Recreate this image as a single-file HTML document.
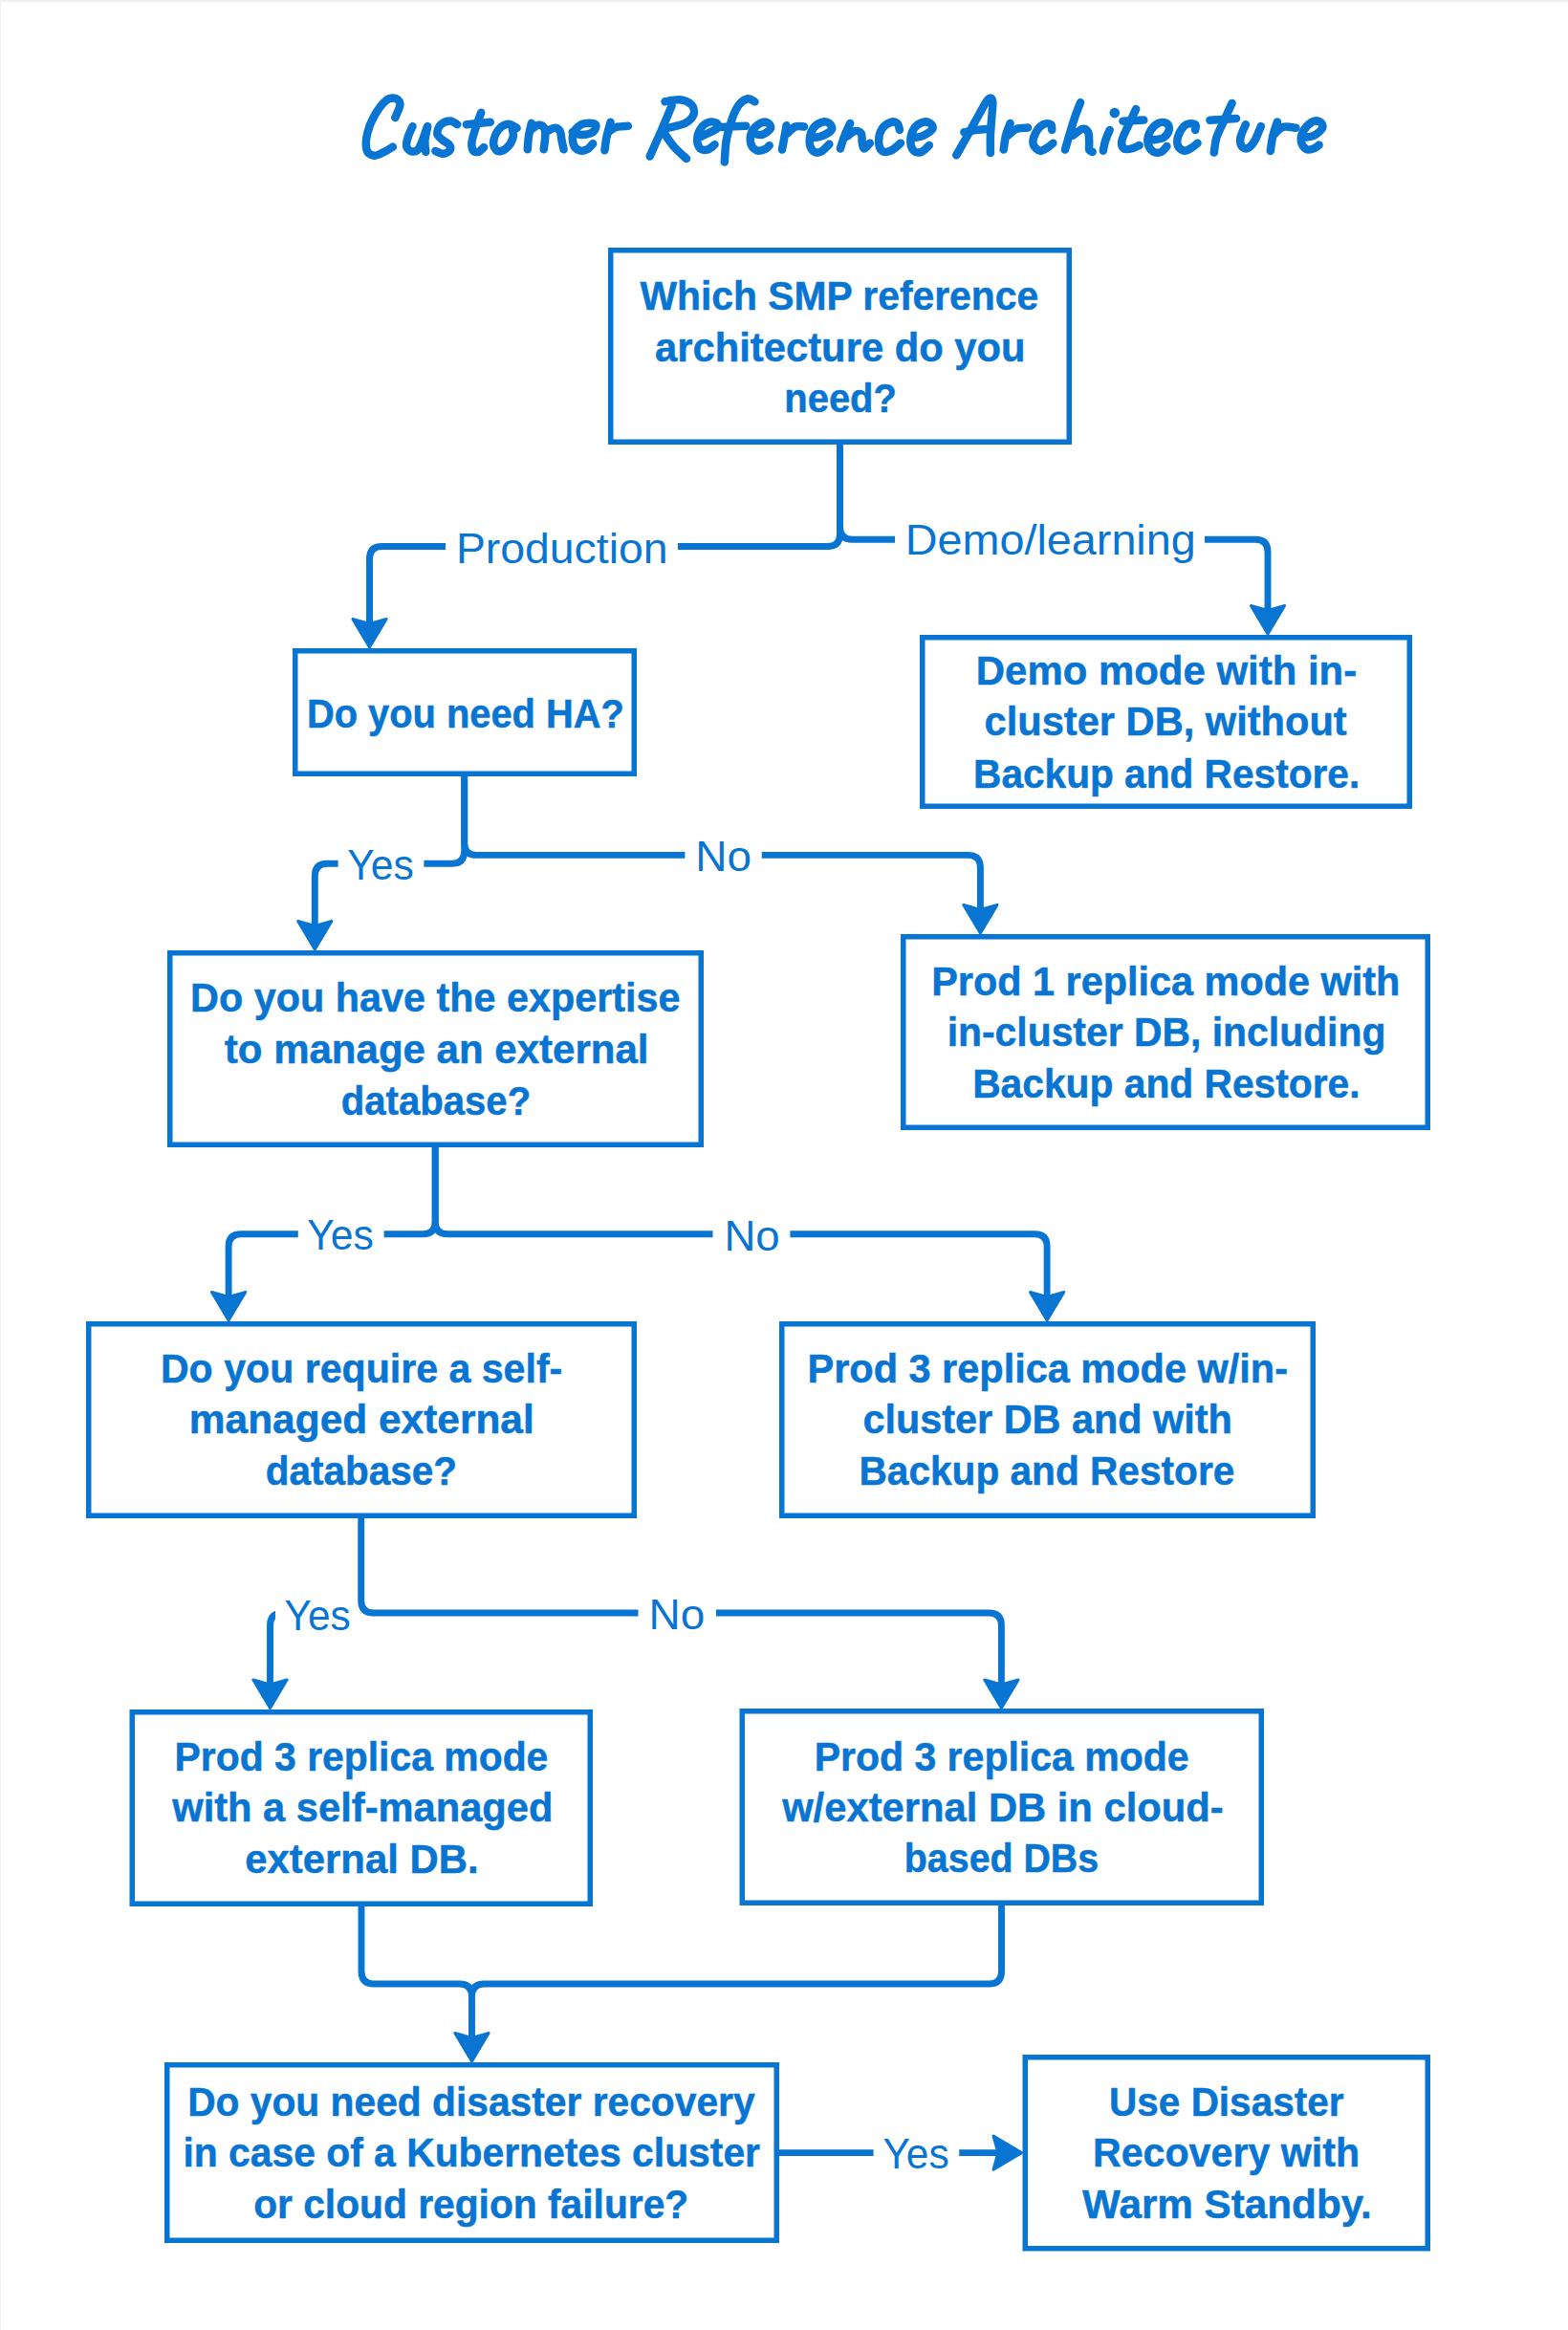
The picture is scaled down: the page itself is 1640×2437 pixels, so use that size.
<!DOCTYPE html>
<html><head><meta charset="utf-8"><style>
html,body{margin:0;padding:0;background:#fff;}
body{width:1640px;height:2437px;overflow:hidden;position:relative;}
svg{position:absolute;left:0;top:0;}
</style></head><body>
<svg width="1640" height="2437" viewBox="0 0 1640 2437">
<defs><clipPath id="cl1"><rect x="0" y="0" width="288" height="2437"/></clipPath></defs>
<rect x="0" y="0" width="1640" height="2" fill="#f0f0f0"/>
<rect x="0" y="0" width="1" height="2437" fill="#f2f2f2"/>
<g fill="none" stroke="#0875d3" stroke-width="5.5">
<rect x="638.75" y="261.75" width="479.50" height="200.50"/>
<rect x="308.75" y="680.75" width="354.50" height="128.50"/>
<rect x="964.75" y="666.75" width="509.50" height="176.50"/>
<rect x="177.75" y="996.75" width="555.50" height="200.50"/>
<rect x="944.75" y="979.75" width="548.50" height="199.50"/>
<rect x="92.75" y="1384.75" width="570.50" height="200.50"/>
<rect x="817.75" y="1384.75" width="555.50" height="200.50"/>
<rect x="138.25" y="1790.75" width="479.00" height="200.50"/>
<rect x="776.25" y="1789.75" width="543.00" height="200.50"/>
<rect x="174.75" y="2159.75" width="637.50" height="183.50"/>
<rect x="1072.25" y="2151.75" width="421.00" height="200.00"/>
</g>
<g fill="none" stroke="#0875d3" stroke-width="6.9" stroke-linecap="butt" stroke-linejoin="round">
<path d="M878.5 465 V558.5 Q878.5 571.5 865.5 571.5 H709"/>
<path d="M466 571.5 H399.5 Q386.5 571.5 386.5 584.5 V654"/>
<path d="M878.5 465 V551.3 Q878.5 564.3 891.5 564.3 H936"/>
<path d="M1260 564.3 H1313.0 Q1326 564.3 1326 577.3 V640"/>
<path d="M485.7 812 V890.2 Q485.7 903.2 472.7 903.2 H443.4"/>
<path d="M353.6 903.2 H342.3 Q329.3 903.2 329.3 916.2 V971"/>
<path d="M485.7 812 V881.4 Q485.7 894.4 498.7 894.4 H716.4"/>
<path d="M796.8 894.4 H1012.4 Q1025.4 894.4 1025.4 907.4 V954"/>
<path d="M455.2 1200 V1277.8 Q455.2 1290.8 442.2 1290.8 H401.6"/>
<path d="M311.8 1290.8 H252.1 Q239.1 1290.8 239.1 1303.8 V1358"/>
<path d="M455.2 1200 V1277.8 Q455.2 1290.8 468.2 1290.8 H745.5"/>
<path d="M826.4 1290.8 H1082.1 Q1095.1 1290.8 1095.1 1303.8 V1358"/>
<path d="M377.7 1588 V1674.0 Q377.7 1687.0 390.7 1687.0 H667.5"/>
<path d="M748.9 1687.0 H1034.4 Q1047.4 1687.0 1047.4 1700.0 V1764"/>
<path d="M378 1994 V2062.0 Q378 2075.0 391.0 2075.0 H480.5 Q493.5 2075.0 493.5 2088.0 V2134"/>
<path d="M1047.5 1993 V2062.0 Q1047.5 2075.0 1034.5 2075.0 H506.5 Q493.5 2075.0 493.5 2088.0"/>
<path d="M815 2251.6 H913.6"/>
<path d="M1003.2 2251.6 H1046"/>
<path clip-path="url(#cl1)" d="M330 1687.0 H295.5 Q282.5 1687.0 282.5 1700.0 V1764"/>
</g>
<g fill="#0875d3" stroke="#0875d3" stroke-width="3" stroke-linejoin="round">
<path d="M386.50 677.00 L368.90 647.50 L386.50 652.50 L404.10 647.50 Z"/>
<path d="M1326.00 663.00 L1308.40 633.50 L1326.00 638.50 L1343.60 633.50 Z"/>
<path d="M329.30 993.00 L311.70 963.50 L329.30 968.50 L346.90 963.50 Z"/>
<path d="M1025.40 976.00 L1007.80 946.50 L1025.40 951.50 L1043.00 946.50 Z"/>
<path d="M239.10 1381.00 L221.50 1351.50 L239.10 1356.50 L256.70 1351.50 Z"/>
<path d="M1095.10 1381.00 L1077.50 1351.50 L1095.10 1356.50 L1112.70 1351.50 Z"/>
<path d="M1047.40 1786.50 L1029.80 1757.00 L1047.40 1762.00 L1065.00 1757.00 Z"/>
<path d="M282.50 1786.50 L264.90 1757.00 L282.50 1762.00 L300.10 1757.00 Z"/>
<path d="M493.50 2156.00 L475.90 2126.50 L493.50 2131.50 L511.10 2126.50 Z"/>
<path d="M1068.50 2251.60 L1039.00 2234.00 L1044.00 2251.60 L1039.00 2269.20 Z"/>
</g>
<g fill="#0875d3" font-family="'Liberation Sans', sans-serif">
<text stroke="#0875d3" stroke-width="0.5" transform="translate(669.50 324.00) scale(0.9722 1)" font-size="42" font-weight="bold" font-style="normal">Which SMP reference</text>
<text stroke="#0875d3" stroke-width="0.5" transform="translate(685.05 378.00) scale(0.9945 1)" font-size="42" font-weight="bold" font-style="normal">architecture do you</text>
<text stroke="#0875d3" stroke-width="0.5" transform="translate(820.30 431.00) scale(0.9510 1)" font-size="42" font-weight="bold" font-style="normal">need?</text>
<text stroke="#0875d3" stroke-width="0.5" transform="translate(320.91 760.80) scale(0.9486 1)" font-size="42" font-weight="bold" font-style="normal">Do you need HA?</text>
<text stroke="#0875d3" stroke-width="0.5" transform="translate(1020.78 715.70) scale(0.9986 1)" font-size="42" font-weight="bold" font-style="normal">Demo mode with in-</text>
<text stroke="#0875d3" stroke-width="0.5" transform="translate(1029.60 769.30) scale(0.9909 1)" font-size="42" font-weight="bold" font-style="normal">cluster DB, without</text>
<text stroke="#0875d3" stroke-width="0.5" transform="translate(1018.06 823.60) scale(0.9676 1)" font-size="42" font-weight="bold" font-style="normal">Backup and Restore.</text>
<text stroke="#0875d3" stroke-width="0.5" transform="translate(199.11 1058.40) scale(0.9848 1)" font-size="42" font-weight="bold" font-style="normal">Do you have the expertise</text>
<text stroke="#0875d3" stroke-width="0.5" transform="translate(234.80 1112.30) scale(1.0009 1)" font-size="42" font-weight="bold" font-style="normal">to manage an external</text>
<text stroke="#0875d3" stroke-width="0.5" transform="translate(356.75 1165.60) scale(0.9555 1)" font-size="42" font-weight="bold" font-style="normal">database?</text>
<text stroke="#0875d3" stroke-width="0.5" transform="translate(974.21 1040.70) scale(0.9863 1)" font-size="42" font-weight="bold" font-style="normal">Prod 1 replica mode with</text>
<text stroke="#0875d3" stroke-width="0.5" transform="translate(990.64 1094.20) scale(0.9735 1)" font-size="42" font-weight="bold" font-style="normal">in-cluster DB, including</text>
<text stroke="#0875d3" stroke-width="0.5" transform="translate(1017.15 1147.90) scale(0.9710 1)" font-size="42" font-weight="bold" font-style="normal">Backup and Restore.</text>
<text stroke="#0875d3" stroke-width="0.5" transform="translate(167.93 1445.50) scale(0.9793 1)" font-size="42" font-weight="bold" font-style="normal">Do you require a self-</text>
<text stroke="#0875d3" stroke-width="0.5" transform="translate(197.85 1499.10) scale(1.0107 1)" font-size="42" font-weight="bold" font-style="normal">managed external</text>
<text stroke="#0875d3" stroke-width="0.5" transform="translate(277.73 1553.10) scale(0.9648 1)" font-size="42" font-weight="bold" font-style="normal">database?</text>
<text stroke="#0875d3" stroke-width="0.5" transform="translate(844.51 1445.70) scale(0.9878 1)" font-size="42" font-weight="bold" font-style="normal">Prod 3 replica mode w/in-</text>
<text stroke="#0875d3" stroke-width="0.5" transform="translate(902.41 1499.00) scale(0.9861 1)" font-size="42" font-weight="bold" font-style="normal">cluster DB and with</text>
<text stroke="#0875d3" stroke-width="0.5" transform="translate(898.46 1552.80) scale(0.9676 1)" font-size="42" font-weight="bold" font-style="normal">Backup and Restore</text>
<text stroke="#0875d3" stroke-width="0.5" transform="translate(182.54 1851.60) scale(0.9739 1)" font-size="42" font-weight="bold" font-style="normal">Prod 3 replica mode</text>
<text stroke="#0875d3" stroke-width="0.5" transform="translate(180.25 1904.90) scale(0.9920 1)" font-size="42" font-weight="bold" font-style="normal">with a self-managed</text>
<text stroke="#0875d3" stroke-width="0.5" transform="translate(256.29 1958.80) scale(0.9967 1)" font-size="42" font-weight="bold" font-style="normal">external DB.</text>
<text stroke="#0875d3" stroke-width="0.5" transform="translate(851.64 1851.90) scale(0.9764 1)" font-size="42" font-weight="bold" font-style="normal">Prod 3 replica mode</text>
<text stroke="#0875d3" stroke-width="0.5" transform="translate(818.15 1905.40) scale(0.9941 1)" font-size="42" font-weight="bold" font-style="normal">w/external DB in cloud-</text>
<text stroke="#0875d3" stroke-width="0.5" transform="translate(945.84 1958.00) scale(0.9368 1)" font-size="42" font-weight="bold" font-style="normal">based DBs</text>
<text stroke="#0875d3" stroke-width="0.5" transform="translate(196.15 2212.60) scale(0.9706 1)" font-size="42" font-weight="bold" font-style="normal">Do you need disaster recovery</text>
<text stroke="#0875d3" stroke-width="0.5" transform="translate(191.45 2266.40) scale(0.9725 1)" font-size="42" font-weight="bold" font-style="normal">in case of a Kubernetes cluster</text>
<text stroke="#0875d3" stroke-width="0.5" transform="translate(265.13 2319.50) scale(0.9706 1)" font-size="42" font-weight="bold" font-style="normal">or cloud region failure?</text>
<text stroke="#0875d3" stroke-width="0.5" transform="translate(1160.10 2212.50) scale(0.9642 1)" font-size="42" font-weight="bold" font-style="normal">Use Disaster</text>
<text stroke="#0875d3" stroke-width="0.5" transform="translate(1142.93 2266.40) scale(0.9807 1)" font-size="42" font-weight="bold" font-style="normal">Recovery with</text>
<text stroke="#0875d3" stroke-width="0.5" transform="translate(1132.10 2320.40) scale(1.0059 1)" font-size="42" font-weight="bold" font-style="normal">Warm Standby.</text>
<text transform="translate(476.88 588.70) scale(1.0541 1)" font-size="44" font-weight="normal" font-style="normal">Production</text>
<text transform="translate(946.85 580.40) scale(1.0623 1)" font-size="44" font-weight="normal" font-style="normal">Demo/learning</text>
<text transform="translate(363.13 919.80) scale(0.9696 1)" font-size="44" font-weight="normal" font-style="normal">Yes</text>
<text transform="translate(727.31 910.90) scale(1.0446 1)" font-size="44" font-weight="normal" font-style="normal">No</text>
<text transform="translate(321.33 1307.20) scale(0.9696 1)" font-size="44" font-weight="normal" font-style="normal">Yes</text>
<text transform="translate(757.44 1307.50) scale(1.0367 1)" font-size="44" font-weight="normal" font-style="normal">No</text>
<text transform="translate(297.54 1704.60) scale(0.9639 1)" font-size="44" font-weight="normal" font-style="normal">Yes</text>
<text transform="translate(678.51 1704.00) scale(1.0446 1)" font-size="44" font-weight="normal" font-style="normal">No</text>
<text transform="translate(923.44 2268.00) scale(0.9653 1)" font-size="44" font-weight="normal" font-style="normal">Yes</text>
</g>
<g fill="none" stroke="#0875d3" stroke-width="8.5" stroke-linecap="round" stroke-linejoin="round">
<path d="M413.3 123.0 C414.2 120.7 418.5 112.5 418.5 109.1 C418.5 105.8 415.7 103.6 413.3 102.9 C410.8 102.3 407.4 102.2 403.7 105.3 C400.0 108.4 394.5 115.8 391.3 121.6 C388.0 127.3 385.4 133.9 384.1 139.8 C382.8 145.7 382.4 153.2 383.6 157.0 C384.8 160.8 388.2 162.4 391.3 162.7 C394.3 163.0 398.5 160.4 401.8 158.9 C405.1 157.4 409.4 154.5 410.9 153.6"/>
<path d="M431.5 132.1 C430.7 134.0 427.7 140.1 426.7 143.6 C425.6 147.1 424.6 150.7 425.2 153.2 C425.9 155.6 428.3 158.1 430.5 158.4 C432.7 158.7 435.4 159.3 438.2 155.1 C440.9 150.8 445.3 136.7 446.8 133.1"/>
<path d="M447.2 132.1 C446.8 134.7 444.7 143.0 444.4 147.4 C444.1 151.9 445.2 157.0 445.3 158.9"/>
<path d="M478.3 130.2 C477.1 129.6 473.6 126.4 470.7 126.4 C467.8 126.4 463.4 128.0 461.1 130.2 C458.9 132.4 457.0 137.0 457.3 139.8 C457.6 142.5 461.0 144.5 463.0 146.5 C465.1 148.4 468.5 149.5 469.7 151.2 C471.0 153.0 471.7 155.4 470.7 157.0 C469.7 158.6 466.5 160.7 464.0 160.8 C461.4 161.0 456.8 158.4 455.4 157.9"/>
<path d="M503.2 117.8 C502.4 120.0 500.0 126.2 498.4 131.1 C496.9 136.1 494.3 143.1 493.7 147.4 C493.0 151.7 493.5 155.1 494.6 157.0 C495.7 158.9 498.4 159.4 500.4 158.9 C502.3 158.4 505.1 154.9 506.1 154.1"/>
<path d="M487.9 130.2 L512.8 127.8"/>
<path d="M540.6 133.9 C539.1 133.2 534.7 129.5 531.4 129.8 C528.2 130.1 523.8 132.7 521.2 135.9 C518.7 139.1 516.3 145.5 516.1 149.2 C516.0 152.8 518.0 156.8 520.2 157.9 C522.4 158.9 526.7 157.6 529.4 155.3 C532.1 153.0 535.5 147.8 536.5 144.1 C537.6 140.3 535.7 134.7 535.5 132.9"/>
<path d="M555.9 128.8 C555.4 131.2 553.5 138.5 552.9 143.1 C552.2 147.7 552.0 154.1 551.8 156.3"/>
<path d="M554.9 135.9 C556.3 135.1 560.7 131.2 563.1 130.8 C565.4 130.5 568.0 131.8 569.2 133.9 C570.4 135.9 570.3 139.3 570.2 143.1 C570.1 146.8 568.9 154.1 568.7 156.3"/>
<path d="M571.2 138.0 C572.6 137.3 577.0 134.0 579.4 133.9 C581.8 133.7 584.1 134.7 585.5 136.9 C586.9 139.1 586.9 143.9 587.6 147.1 C588.2 150.4 589.3 154.8 589.6 156.3"/>
<path d="M598.8 138.0 C600.3 138.5 604.4 141.0 608.0 141.0 C611.5 141.0 617.7 139.7 620.2 138.0 C622.8 136.3 623.9 132.3 623.3 130.8 C622.6 129.3 618.8 128.8 616.1 128.8 C613.4 128.8 609.7 129.1 606.9 130.8 C604.2 132.5 601.0 135.6 599.8 139.0 C598.6 142.4 598.8 148.2 599.8 151.2 C600.8 154.3 603.5 156.5 605.9 157.3 C608.3 158.2 611.7 157.5 614.1 156.3 C616.5 155.1 619.2 151.2 620.2 150.2"/>
<path d="M638.6 127.8 C637.9 130.3 635.5 138.1 634.5 143.1 C633.5 148.0 632.8 155.0 632.4 157.3"/>
<path d="M636.5 138.0 C637.9 137.1 641.3 133.9 644.7 132.9 C648.1 131.8 654.9 132.0 656.9 131.8"/>
<path d="M695.5 106.3 C698.1 106.0 706.2 103.8 710.8 104.3 C715.4 104.8 720.6 106.8 723.1 109.4 C725.5 111.9 726.6 116.4 725.6 119.6 C724.6 122.8 721.4 126.4 716.9 128.8 C712.4 131.2 701.6 133.0 698.6 133.9"/>
<path d="M702.7 110.4 C701.0 114.5 696.3 126.1 692.4 134.9 C688.6 143.7 681.8 158.7 679.7 163.5"/>
<path d="M694.5 139.0 C696.2 141.4 700.8 148.8 704.7 153.3 C708.6 157.8 715.7 163.9 718.0 166.0"/>
<path d="M732.2 143.1 C733.8 142.4 738.4 140.5 741.4 139.0 C744.5 137.4 749.3 135.6 750.6 133.9 C752.0 132.2 751.1 129.8 749.6 128.8 C748.1 127.8 744.1 126.9 741.4 127.8 C738.7 128.6 735.3 131.0 733.3 133.9 C731.2 136.8 729.4 141.5 729.2 145.1 C729.0 148.7 730.4 153.4 732.2 155.3 C734.1 157.2 737.9 157.0 740.4 156.3 C743.0 155.6 746.4 152.1 747.6 151.2"/>
<path d="M789.4 106.3 C788.2 105.8 785.0 102.8 782.2 103.3 C779.5 103.8 775.8 106.0 773.1 109.4 C770.3 112.8 768.1 117.6 765.9 123.7 C763.7 129.8 761.2 138.5 759.8 146.1 C758.4 153.8 758.1 165.7 757.8 169.6"/>
<path d="M754.7 132.9 L780.2 131.8"/>
<path d="M787.3 139.0 C788.9 139.3 793.5 141.7 796.5 141.0 C799.6 140.3 804.5 136.9 805.7 134.9 C806.9 132.9 805.4 129.8 803.7 128.8 C802.0 127.8 798.4 127.2 795.5 128.8 C792.6 130.3 788.0 134.4 786.3 138.0 C784.6 141.5 784.5 147.0 785.3 150.2 C786.2 153.4 789.0 156.3 791.4 157.3 C793.8 158.4 797.4 157.2 799.6 156.3 C801.8 155.5 803.8 152.9 804.7 152.2"/>
<path d="M822.6 131.3 C822.2 133.4 821.1 139.7 820.3 144.0 C819.6 148.2 818.4 154.5 818.0 156.6"/>
<path d="M823.8 139.4 C825.1 138.2 828.9 133.6 831.8 132.5 C834.7 131.3 839.5 132.5 841.0 132.5"/>
<path d="M847.9 144.0 C849.6 143.8 854.6 144.1 858.2 142.8 C861.9 141.5 868.2 138.2 869.7 135.9 C871.2 133.6 869.1 130.4 867.4 129.0 C865.7 127.7 862.2 126.9 859.4 127.9 C856.5 128.8 852.3 131.5 850.2 134.8 C848.1 138.0 846.7 143.6 846.7 147.4 C846.7 151.2 848.3 155.8 850.2 157.7 C852.1 159.6 855.3 160.0 858.2 158.9 C861.1 157.7 865.9 152.2 867.4 150.8"/>
<path d="M889.2 129.0 C888.3 131.1 885.2 137.3 883.5 141.7 C881.7 146.1 879.6 153.1 878.9 155.4"/>
<path d="M885.8 142.8 C887.1 141.9 891.3 137.6 893.8 137.1 C896.3 136.5 899.4 137.3 900.7 139.4 C902.0 141.5 901.3 147.0 901.8 149.7 C902.4 152.4 902.8 155.4 904.1 155.4 C905.5 155.4 908.9 150.7 909.9 149.7"/>
<path d="M940.9 135.9 C940.5 134.8 940.1 130.4 938.6 129.0 C937.0 127.7 934.4 126.9 931.7 127.9 C929.0 128.8 924.6 131.5 922.5 134.8 C920.4 138.0 919.1 143.6 919.1 147.4 C919.1 151.2 920.4 156.0 922.5 157.7 C924.6 159.5 928.4 159.1 931.7 157.7 C934.9 156.4 940.3 151.0 942.0 149.7"/>
<path d="M956.9 144.0 C958.5 143.6 963.1 143.2 966.1 141.7 C969.2 140.1 974.2 136.9 975.3 134.8 C976.5 132.7 974.7 130.2 973.0 129.0 C971.3 127.9 967.8 126.9 965.0 127.9 C962.1 128.8 957.9 131.5 955.8 134.8 C953.7 138.0 952.3 143.6 952.3 147.4 C952.3 151.2 953.9 155.8 955.8 157.7 C957.7 159.6 961.1 159.8 963.8 158.9 C966.5 157.9 970.5 153.1 971.9 152.0"/>
<path d="M1000.3 162.3 C1002.1 159.3 1006.8 150.8 1010.7 144.0 C1014.5 137.1 1019.5 127.7 1023.3 121.0 C1027.1 114.3 1031.1 106.3 1033.6 103.8 C1036.1 101.3 1037.6 102.6 1038.2 106.1 C1038.8 109.5 1037.4 118.5 1037.1 124.4 C1036.7 130.4 1036.1 135.7 1035.9 141.7 C1035.7 147.6 1035.9 157.0 1035.9 160.0"/>
<path d="M1008.4 138.2 C1010.7 137.8 1017.6 136.5 1022.1 135.9 C1026.7 135.3 1033.6 135.0 1035.9 134.8"/>
<path d="M1056.6 129.0 C1055.8 131.1 1053.1 137.1 1052.0 141.7 C1050.8 146.3 1050.1 154.1 1049.7 156.6"/>
<path d="M1054.3 141.7 C1055.8 140.5 1060.0 136.1 1063.5 134.8 C1066.9 133.4 1073.0 133.8 1075.0 133.6"/>
<path d="M1100.2 135.9 C1100.0 135.0 1100.6 131.1 1099.1 130.2 C1097.5 129.2 1093.7 128.6 1091.0 130.2 C1088.3 131.7 1084.7 135.9 1083.0 139.4 C1081.3 142.8 1079.9 147.8 1080.7 150.8 C1081.5 153.9 1085.1 157.2 1087.6 157.7 C1090.1 158.3 1093.3 155.6 1095.6 154.3 C1097.9 152.9 1100.4 150.5 1101.4 149.7"/>
<path d="M1130.1 107.2 C1128.9 110.3 1125.8 117.4 1123.2 125.6 C1120.5 133.8 1115.5 151.4 1114.0 156.6"/>
<path d="M1122.0 141.7 C1123.7 140.5 1129.7 135.3 1132.3 134.8 C1135.0 134.2 1136.9 135.9 1138.1 138.2 C1139.2 140.5 1139.0 145.5 1139.2 148.5 C1139.4 151.6 1138.7 154.9 1139.2 156.6 C1139.8 158.3 1142.1 158.5 1142.7 158.9"/>
<path d="M1160.7 135.9 C1159.9 137.8 1157.2 143.8 1156.1 147.4 C1154.9 151.0 1154.2 156.0 1153.8 157.7"/>
<path d="M1188.2 114.1 C1186.7 117.4 1181.5 128.1 1179.0 133.6 C1176.5 139.2 1173.9 143.8 1173.3 147.4 C1172.7 151.0 1173.9 154.1 1175.6 155.4 C1177.3 156.8 1180.9 156.0 1183.6 155.4 C1186.3 154.9 1190.3 152.6 1191.7 152.0"/>
<path d="M1174.4 126.7 L1196.3 125.6"/>
<path d="M1206.6 146.3 C1208.3 145.9 1214.2 145.7 1216.9 144.0 C1219.6 142.2 1222.1 138.4 1222.7 135.9 C1223.2 133.4 1222.3 130.2 1220.4 129.0 C1218.4 127.9 1214.2 127.3 1211.2 129.0 C1208.1 130.8 1203.7 135.7 1202.0 139.4 C1200.3 143.0 1200.1 147.6 1200.8 150.8 C1201.6 154.1 1204.3 157.5 1206.6 158.9 C1208.9 160.2 1212.3 159.8 1214.6 158.9 C1216.9 157.9 1219.4 154.1 1220.4 153.1"/>
<path d="M1250.2 135.9 C1250.2 135.0 1251.7 131.1 1250.2 130.2 C1248.7 129.2 1243.9 128.5 1241.0 130.2 C1238.2 131.9 1234.5 136.9 1233.0 140.5 C1231.5 144.1 1230.9 149.1 1231.8 152.0 C1232.8 154.9 1236.2 157.3 1238.7 157.7 C1241.2 158.1 1244.5 155.6 1246.8 154.3 C1249.1 152.9 1251.5 150.5 1252.5 149.7"/>
<path d="M1288.6 107.9 C1287.2 110.8 1283.2 119.8 1280.5 125.7 C1277.9 131.7 1274.3 137.9 1272.5 143.6 C1270.7 149.2 1270.3 157.0 1269.8 159.6"/>
<path d="M1265.4 125.7 L1293.0 123.9"/>
<path d="M1302.9 130.2 C1302.0 132.4 1298.2 139.9 1297.5 143.6 C1296.8 147.3 1297.2 150.6 1298.4 152.5 C1299.6 154.4 1302.4 155.9 1304.6 155.2 C1306.9 154.4 1309.4 151.9 1311.8 148.0 C1314.2 144.2 1317.7 134.6 1318.9 132.0"/>
<path d="M1335.9 127.5 C1335.1 129.9 1332.6 136.7 1331.4 141.8 C1330.2 146.8 1329.2 155.2 1328.8 157.9"/>
<path d="M1333.2 140.0 C1334.7 138.8 1338.4 133.9 1342.1 132.9 C1345.9 131.8 1353.3 133.6 1355.5 133.8"/>
<path d="M1364.5 143.6 C1366.1 143.3 1371.2 143.4 1374.3 141.8 C1377.4 140.1 1382.2 136.1 1383.2 133.8 C1384.3 131.4 1382.3 128.5 1380.5 127.5 C1378.8 126.5 1375.3 126.0 1372.5 127.5 C1369.7 129.0 1365.5 133.0 1363.6 136.4 C1361.6 139.9 1360.4 144.8 1360.9 148.0 C1361.3 151.3 1364.0 154.9 1366.2 156.1 C1368.5 157.3 1372.1 155.9 1374.3 155.2 C1376.5 154.4 1378.8 152.2 1379.6 151.6"/>
</g>
<circle cx="1165.8" cy="118.1" r="5.3" fill="#0875d3"/>
</svg>
</body></html>
